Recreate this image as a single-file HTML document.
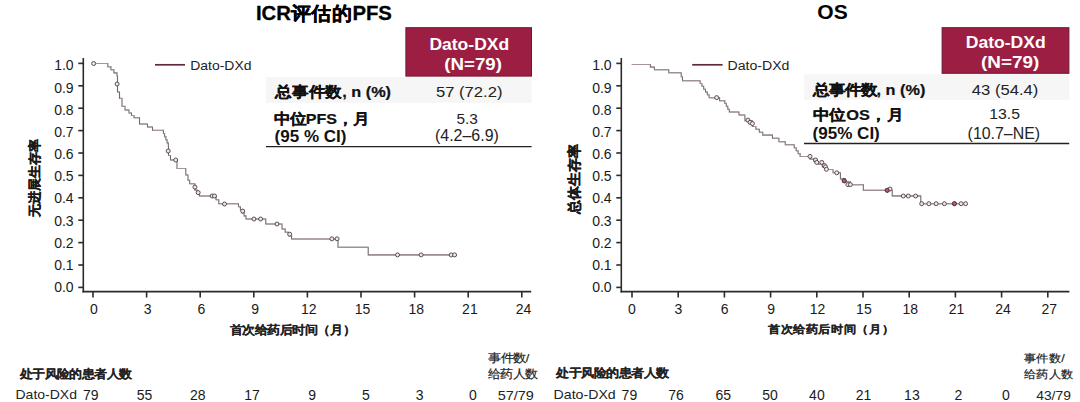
<!DOCTYPE html>
<html><head><meta charset="utf-8"><title>Dato-DXd KM</title>
<style>html,body{margin:0;padding:0;background:#fff;width:1080px;height:402px;overflow:hidden}svg{display:block}</style>
</head><body>
<svg width="1080" height="402" viewBox="0 0 1080 402"><style>.ax{stroke:#2b2b2b;stroke-width:1.6;fill:none}.cv{fill:none;stroke:#6e6a6c;stroke-width:1.1}.ch{fill:none;stroke:#a8939b;stroke-width:1.05}.cf{fill:#b3607c;stroke:#4a2a36;stroke-width:0.9}.cc{fill:#f3e4ea;stroke:#4a4044;stroke-width:0.9}text{font-family:"Liberation Sans",sans-serif}</style><rect width="1080" height="402" fill="#fff"/><rect x="405.9" y="27.7" width="125.6" height="48.4" fill="#9c1f43" stroke="#6a1832" stroke-width="1"/><rect x="942.1" y="27.7" width="126.8" height="45.6" fill="#9c1f43" stroke="#6a1832" stroke-width="1"/><rect x="266" y="77" width="265.6" height="25.8" fill="#f6f6f6"/><rect x="804" y="74.4" width="265.2" height="25.4" fill="#f6f6f6"/><line x1="266" y1="146.6" x2="531.6" y2="146.6" stroke="#222" stroke-width="1.3"/><line x1="804" y1="143.5" x2="1069.2" y2="143.5" stroke="#222" stroke-width="1.3"/><text transform="translate(324.00,13.35) scale(1.0152,0.9650) translate(-67.00,7.00)" font-size="20" font-weight="700" fill="#000" stroke="#000" stroke-width="0.30" stroke-linejoin="round">ICR评估的PFS</text><text transform="translate(832.60,11.25) scale(1.0519,1.0519) translate(-14.50,7.00)" font-size="20" font-weight="700" fill="#000">OS</text><text transform="translate(469.25,44.15) scale(0.8753,0.8200) translate(-45.50,7.50)" font-size="20" font-weight="700" fill="#fff">Dato-DXd</text><text transform="translate(473.35,65.00) scale(0.9350,0.8415) translate(-31.00,5.50)" font-size="20" font-weight="700" fill="#fff">(N=79)</text><text transform="translate(1005.70,42.05) scale(0.8787,0.8200) translate(-45.50,7.50)" font-size="20" font-weight="700" fill="#fff">Dato-DXd</text><text transform="translate(1010.25,62.95) scale(0.9450,0.8505) translate(-31.00,5.50)" font-size="20" font-weight="700" fill="#fff">(N=79)</text><text transform="translate(331.55,92.60) scale(0.8151,0.7336) translate(-69.50,6.50)" font-size="20" font-weight="700" fill="#111" stroke="#111" stroke-width="0.30" stroke-linejoin="round">总事件数, n (%)</text><text transform="translate(320.90,118.45) scale(0.8053,0.7250) translate(-58.00,7.00)" font-size="20" font-weight="700" fill="#111" stroke="#111" stroke-width="0.30" stroke-linejoin="round">中位PFS，月</text><text transform="translate(310.75,137.90) scale(0.8518,0.7789) translate(-42.50,5.50)" font-size="20" font-weight="700" fill="#111">(95 % CI)</text><text transform="translate(469.20,93.00) scale(0.8308,0.7477) translate(-40.00,5.50)" font-size="20" font-weight="400" fill="#222">57 (72.2)</text><text transform="translate(467.20,118.30) scale(0.7692,0.7429) translate(-14.00,7.00)" font-size="20" font-weight="400" fill="#222">5.3</text><text transform="translate(466.95,136.95) scale(0.7987,0.7842) translate(-40.00,5.50)" font-size="20" font-weight="400" fill="#222">(4.2–6.9)</text><text transform="translate(870.05,89.95) scale(0.8137,0.7323) translate(-69.50,6.50)" font-size="20" font-weight="700" fill="#111" stroke="#111" stroke-width="0.30" stroke-linejoin="round">总事件数, n (%)</text><text transform="translate(856.00,115.10) scale(0.8192,0.7373) translate(-53.00,7.00)" font-size="20" font-weight="700" fill="#111" stroke="#111" stroke-width="0.30" stroke-linejoin="round">中位OS，月</text><text transform="translate(846.25,134.95) scale(0.8532,0.7947) translate(-39.50,5.50)" font-size="20" font-weight="700" fill="#111">(95% CI)</text><text transform="translate(1004.65,90.60) scale(0.8316,0.7485) translate(-39.50,5.50)" font-size="20" font-weight="400" fill="#222">43 (54.4)</text><text transform="translate(1004.60,114.20) scale(0.7892,0.7429) translate(-19.50,7.00)" font-size="20" font-weight="400" fill="#222">13.5</text><text transform="translate(1003.80,134.60) scale(0.7955,0.7789) translate(-45.50,5.50)" font-size="20" font-weight="400" fill="#222">(10.7–NE)</text><text transform="translate(221.35,64.90) scale(0.6976,0.6667) translate(-44.50,7.50)" font-size="20" font-weight="400" fill="#222">Dato-DXd</text><text transform="translate(758.90,64.90) scale(0.7059,0.6667) translate(-44.50,7.50)" font-size="20" font-weight="400" fill="#222">Dato-DXd</text><text transform="translate(290.00,330.15) scale(0.6394,0.5857) translate(-94.00,6.50)" font-size="20" font-weight="700" fill="#222" stroke="#222" stroke-width="0.20" stroke-linejoin="round">首次给药后时间（月）</text><text transform="translate(827.75,329.75) scale(0.6356,0.5721) translate(-94.00,6.50)" font-size="20" font-weight="700" fill="#222" stroke="#222" stroke-width="0.20" stroke-linejoin="round">首次给药后时间（月）</text><text transform="translate(77.00,374.20) scale(0.6367,0.5900) translate(-90.00,7.00)" font-size="20" font-weight="700" fill="#222" stroke="#222" stroke-width="0.20" stroke-linejoin="round">处于风险的患者人数</text><text transform="translate(613.50,373.05) scale(0.6389,0.5850) translate(-90.00,7.00)" font-size="20" font-weight="700" fill="#222" stroke="#222" stroke-width="0.20" stroke-linejoin="round">处于风险的患者人数</text><text transform="translate(46.65,394.15) scale(0.7000,0.6467) translate(-44.50,7.50)" font-size="20" font-weight="400" fill="#222">Dato-DXd</text><text transform="translate(585.10,394.15) scale(0.7082,0.6467) translate(-44.50,7.50)" font-size="20" font-weight="400" fill="#222">Dato-DXd</text><text transform="translate(509.15,357.75) scale(0.6409,0.5768) translate(-33.00,7.00)" font-size="20" font-weight="400" fill="#222" stroke="#222" stroke-width="0.35" stroke-linejoin="round">事件数/</text><text transform="translate(513.05,373.85) scale(0.6342,0.5850) translate(-39.50,7.00)" font-size="20" font-weight="400" fill="#222" stroke="#222" stroke-width="0.35" stroke-linejoin="round">给药人数</text><text transform="translate(1044.40,358.45) scale(0.6333,0.5700) translate(-33.00,7.00)" font-size="20" font-weight="400" fill="#222" stroke="#222" stroke-width="0.35" stroke-linejoin="round">事件数/</text><text transform="translate(1048.65,374.05) scale(0.6367,0.5730) translate(-39.50,7.00)" font-size="20" font-weight="400" fill="#222" stroke="#222" stroke-width="0.35" stroke-linejoin="round">给药人数</text><text transform="translate(515.75,395.30) scale(0.7229,0.6667) translate(-25.00,7.50)" font-size="20" font-weight="400" fill="#222">57/79</text><text transform="translate(1053.20,395.30) scale(0.6939,0.6667) translate(-24.50,7.50)" font-size="20" font-weight="400" fill="#222">43/79</text><line x1="155" y1="64.8" x2="185" y2="64.8" stroke="#5e2a3c" stroke-width="1.7"/><line x1="692.2" y1="64.8" x2="722.6" y2="64.8" stroke="#5e2a3c" stroke-width="1.7"/><line x1="83.3" y1="58" x2="83.3" y2="292.4" class="ax"/><line x1="78.3" y1="287.4" x2="83.3" y2="287.4" class="ax"/><line x1="78.3" y1="265.0" x2="83.3" y2="265.0" class="ax"/><line x1="78.3" y1="242.6" x2="83.3" y2="242.6" class="ax"/><line x1="78.3" y1="220.2" x2="83.3" y2="220.2" class="ax"/><line x1="78.3" y1="197.8" x2="83.3" y2="197.8" class="ax"/><line x1="78.3" y1="175.4" x2="83.3" y2="175.4" class="ax"/><line x1="78.3" y1="153.0" x2="83.3" y2="153.0" class="ax"/><line x1="78.3" y1="130.6" x2="83.3" y2="130.6" class="ax"/><line x1="78.3" y1="108.2" x2="83.3" y2="108.2" class="ax"/><line x1="78.3" y1="85.8" x2="83.3" y2="85.8" class="ax"/><line x1="78.3" y1="63.4" x2="83.3" y2="63.4" class="ax"/><line x1="82.5" y1="291.6" x2="531.2" y2="291.6" class="ax"/><line x1="93.0" y1="291.6" x2="93.0" y2="297.5" class="ax"/><line x1="146.6" y1="291.6" x2="146.6" y2="297.5" class="ax"/><line x1="200.2" y1="291.6" x2="200.2" y2="297.5" class="ax"/><line x1="253.8" y1="291.6" x2="253.8" y2="297.5" class="ax"/><line x1="307.4" y1="291.6" x2="307.4" y2="297.5" class="ax"/><line x1="361.0" y1="291.6" x2="361.0" y2="297.5" class="ax"/><line x1="414.6" y1="291.6" x2="414.6" y2="297.5" class="ax"/><line x1="468.2" y1="291.6" x2="468.2" y2="297.5" class="ax"/><line x1="521.8" y1="291.6" x2="521.8" y2="297.5" class="ax"/><line x1="621.3" y1="58" x2="621.3" y2="292.4" class="ax"/><line x1="616.3" y1="287.4" x2="621.3" y2="287.4" class="ax"/><line x1="616.3" y1="265.0" x2="621.3" y2="265.0" class="ax"/><line x1="616.3" y1="242.6" x2="621.3" y2="242.6" class="ax"/><line x1="616.3" y1="220.2" x2="621.3" y2="220.2" class="ax"/><line x1="616.3" y1="197.8" x2="621.3" y2="197.8" class="ax"/><line x1="616.3" y1="175.4" x2="621.3" y2="175.4" class="ax"/><line x1="616.3" y1="153.0" x2="621.3" y2="153.0" class="ax"/><line x1="616.3" y1="130.6" x2="621.3" y2="130.6" class="ax"/><line x1="616.3" y1="108.2" x2="621.3" y2="108.2" class="ax"/><line x1="616.3" y1="85.8" x2="621.3" y2="85.8" class="ax"/><line x1="616.3" y1="63.4" x2="621.3" y2="63.4" class="ax"/><line x1="620.5" y1="291.6" x2="1069.4" y2="291.6" class="ax"/><line x1="632.0" y1="291.6" x2="632.0" y2="297.5" class="ax"/><line x1="678.2" y1="291.6" x2="678.2" y2="297.5" class="ax"/><line x1="724.4" y1="291.6" x2="724.4" y2="297.5" class="ax"/><line x1="770.6" y1="291.6" x2="770.6" y2="297.5" class="ax"/><line x1="816.8" y1="291.6" x2="816.8" y2="297.5" class="ax"/><line x1="863.0" y1="291.6" x2="863.0" y2="297.5" class="ax"/><line x1="909.2" y1="291.6" x2="909.2" y2="297.5" class="ax"/><line x1="955.4" y1="291.6" x2="955.4" y2="297.5" class="ax"/><line x1="1001.6" y1="291.6" x2="1001.6" y2="297.5" class="ax"/><line x1="1047.8" y1="291.6" x2="1047.8" y2="297.5" class="ax"/><text x="73.6" y="292.0" font-size="14" font-weight="400" text-anchor="end" fill="#1a1a1a" >0.0</text><text x="611.6" y="292.0" font-size="14" font-weight="400" text-anchor="end" fill="#1a1a1a" >0.0</text><text x="73.6" y="269.8" font-size="14" font-weight="400" text-anchor="end" fill="#1a1a1a" >0.1</text><text x="611.6" y="269.8" font-size="14" font-weight="400" text-anchor="end" fill="#1a1a1a" >0.1</text><text x="73.6" y="247.7" font-size="14" font-weight="400" text-anchor="end" fill="#1a1a1a" >0.2</text><text x="611.6" y="247.7" font-size="14" font-weight="400" text-anchor="end" fill="#1a1a1a" >0.2</text><text x="73.6" y="225.5" font-size="14" font-weight="400" text-anchor="end" fill="#1a1a1a" >0.3</text><text x="611.6" y="225.5" font-size="14" font-weight="400" text-anchor="end" fill="#1a1a1a" >0.3</text><text x="73.6" y="203.3" font-size="14" font-weight="400" text-anchor="end" fill="#1a1a1a" >0.4</text><text x="611.6" y="203.3" font-size="14" font-weight="400" text-anchor="end" fill="#1a1a1a" >0.4</text><text x="73.6" y="181.1" font-size="14" font-weight="400" text-anchor="end" fill="#1a1a1a" >0.5</text><text x="611.6" y="181.1" font-size="14" font-weight="400" text-anchor="end" fill="#1a1a1a" >0.5</text><text x="73.6" y="159.0" font-size="14" font-weight="400" text-anchor="end" fill="#1a1a1a" >0.6</text><text x="611.6" y="159.0" font-size="14" font-weight="400" text-anchor="end" fill="#1a1a1a" >0.6</text><text x="73.6" y="136.8" font-size="14" font-weight="400" text-anchor="end" fill="#1a1a1a" >0.7</text><text x="611.6" y="136.8" font-size="14" font-weight="400" text-anchor="end" fill="#1a1a1a" >0.7</text><text x="73.6" y="114.6" font-size="14" font-weight="400" text-anchor="end" fill="#1a1a1a" >0.8</text><text x="611.6" y="114.6" font-size="14" font-weight="400" text-anchor="end" fill="#1a1a1a" >0.8</text><text x="73.6" y="92.5" font-size="14" font-weight="400" text-anchor="end" fill="#1a1a1a" >0.9</text><text x="611.6" y="92.5" font-size="14" font-weight="400" text-anchor="end" fill="#1a1a1a" >0.9</text><text x="73.6" y="70.3" font-size="14" font-weight="400" text-anchor="end" fill="#1a1a1a" >1.0</text><text x="611.6" y="70.3" font-size="14" font-weight="400" text-anchor="end" fill="#1a1a1a" >1.0</text><text x="94.0" y="313.6" font-size="14" font-weight="400" text-anchor="middle" fill="#1a1a1a" >0</text><text x="147.7" y="313.6" font-size="14" font-weight="400" text-anchor="middle" fill="#1a1a1a" >3</text><text x="201.4" y="313.6" font-size="14" font-weight="400" text-anchor="middle" fill="#1a1a1a" >6</text><text x="255.1" y="313.6" font-size="14" font-weight="400" text-anchor="middle" fill="#1a1a1a" >9</text><text x="308.8" y="313.6" font-size="14" font-weight="400" text-anchor="middle" fill="#1a1a1a" >12</text><text x="362.5" y="313.6" font-size="14" font-weight="400" text-anchor="middle" fill="#1a1a1a" >15</text><text x="416.2" y="313.6" font-size="14" font-weight="400" text-anchor="middle" fill="#1a1a1a" >18</text><text x="469.9" y="313.6" font-size="14" font-weight="400" text-anchor="middle" fill="#1a1a1a" >21</text><text x="523.6" y="313.6" font-size="14" font-weight="400" text-anchor="middle" fill="#1a1a1a" >24</text><text x="632.0" y="313.6" font-size="14" font-weight="400" text-anchor="middle" fill="#1a1a1a" >0</text><text x="678.4" y="313.6" font-size="14" font-weight="400" text-anchor="middle" fill="#1a1a1a" >3</text><text x="724.7" y="313.6" font-size="14" font-weight="400" text-anchor="middle" fill="#1a1a1a" >6</text><text x="771.1" y="313.6" font-size="14" font-weight="400" text-anchor="middle" fill="#1a1a1a" >9</text><text x="817.5" y="313.6" font-size="14" font-weight="400" text-anchor="middle" fill="#1a1a1a" >12</text><text x="863.9" y="313.6" font-size="14" font-weight="400" text-anchor="middle" fill="#1a1a1a" >15</text><text x="910.2" y="313.6" font-size="14" font-weight="400" text-anchor="middle" fill="#1a1a1a" >18</text><text x="956.6" y="313.6" font-size="14" font-weight="400" text-anchor="middle" fill="#1a1a1a" >21</text><text x="1003.0" y="313.6" font-size="14" font-weight="400" text-anchor="middle" fill="#1a1a1a" >24</text><text x="1049.3" y="313.6" font-size="14" font-weight="400" text-anchor="middle" fill="#1a1a1a" >27</text><text x="0" y="0" font-size="13" font-weight="700" text-anchor="middle" fill="#1a1a1a" stroke="#1a1a1a" stroke-width="0.3" transform="translate(39,178) rotate(-90)">无进展生存率</text><text x="0" y="0" font-size="14" font-weight="700" text-anchor="middle" fill="#1a1a1a" stroke="#1a1a1a" stroke-width="0.3" transform="translate(578.5,179) rotate(-90)">总体生存率</text><path class="cv" d="M93.5,63.5H107.8V63.5H107.8V66.6H110.9V69.8H113.9V72.9H117.0V76.0H117.5V92.0H119.5V98.4H122.0V106.4H125.0V110.0H129.0V113.0H131.5V115.5H134.0V117.8H139.5V124.0H147.5V127.0H152.5V130.4H163.4V130.4H163.4V133.5H164.6V136.6H165.9V139.8H167.1V142.9H168.3V146.0H168.5V151.0H168.5V155.5H170.5V160.0H177.0V160.0H177.0V168.5H183.6V168.5H185.8V175.0H188.0V177.0H188.0V180.3H189.7V183.7H194.9V187.1H194.9V190.1H197.2V193.0H199.4V196.0H216.0V196.0H216.0V199.8H218.8V203.7H238.5V203.7H238.5V206.8H240.4V209.8H242.2V212.9H244.1V215.9H246.0V219.0H265.8V219.0H265.8V224.0H282.0V224.0H282.0V229.0H285.2V229.0H285.2V232.3H288.4V235.7H291.6V239.0H338.0V239.0H338.0V247.2H368.2V247.2H368.2V254.9H456.4V254.9"/><path class="ch" d="M93.5,63.5H107.8M107.8,66.6H110.9M110.9,69.8H113.9M113.9,72.9H117.0M117.0,76.0H117.5M117.5,92.0H119.5M119.5,98.4H122.0M122.0,106.4H125.0M125.0,110.0H129.0M129.0,113.0H131.5M131.5,115.5H134.0M134.0,117.8H139.5M139.5,124.0H147.5M147.5,127.0H152.5M152.5,130.4H163.4M163.4,133.5H164.6M164.6,136.6H165.9M165.9,139.8H167.1M167.1,142.9H168.3M168.3,146.0H168.5M168.5,155.5H170.5M170.5,160.0H177.0M177.0,168.5H183.6M183.6,168.5H185.8M185.8,175.0H188.0M188.0,180.3H189.7M189.7,183.7H194.9M194.9,190.1H197.2M197.2,193.0H199.4M199.4,196.0H216.0M216.0,199.8H218.8M218.8,203.7H238.5M238.5,206.8H240.4M240.4,209.8H242.2M242.2,212.9H244.1M244.1,215.9H246.0M246.0,219.0H265.8M265.8,224.0H282.0M282.0,229.0H285.2M285.2,232.3H288.4M288.4,235.7H291.6M291.6,239.0H338.0M338.0,247.2H368.2M368.2,254.9H456.4"/><g class="cc"><circle cx="93.7" cy="63.5" r="2.0"/><circle cx="117.1" cy="84.0" r="2.0"/><circle cx="168.2" cy="151.0" r="2.0"/><circle cx="175.7" cy="160.0" r="2.0"/><circle cx="194.9" cy="187.1" r="2.0"/><circle cx="198.2" cy="192.6" r="2.0"/><circle cx="212.1" cy="196.0" r="2.0"/><circle cx="214.5" cy="196.0" r="2.0"/><circle cx="224.5" cy="204.0" r="2.0"/><circle cx="242.7" cy="211.1" r="2.0"/><circle cx="253.9" cy="219.0" r="2.0"/><circle cx="260.6" cy="219.0" r="2.0"/><circle cx="277.0" cy="224.0" r="2.0"/><circle cx="289.7" cy="234.2" r="2.0"/><circle cx="331.9" cy="238.8" r="2.0"/><circle cx="337.1" cy="238.8" r="2.0"/><circle cx="397.5" cy="254.9" r="2.0"/><circle cx="421.1" cy="254.9" r="2.0"/><circle cx="451.2" cy="254.9" r="2.0"/><circle cx="454.6" cy="254.9" r="2.0"/></g><path class="cv" d="M631.8,64.5H650.4V64.5H650.4V67.1H654.4V69.7H668.8V69.7H668.8V72.7H681.2V72.7H681.2V76.7H682.5V80.7H700.1V80.7H700.1V83.5H701.9V86.3H703.7V89.2H705.5V92.0H707.3V94.8H709.1V97.6H716.6V97.6H719.6V100.6H724.8V100.6H724.8V103.4H726.3V106.3H727.8V109.2H729.3V112.0H739.0V112.0H739.0V115.0H744.9V117.9H744.9V120.8H752.4V123.6H752.4V126.5H755.9V129.3H759.3V132.2H762.8V135.1H772.5V135.1H772.5V138.3H778.9V141.6H785.2V144.8H794.2V144.8H794.2V147.7H796.2V150.7H798.1V153.6H800.1V156.5H810.0V156.5H810.0V159.1H814.1V161.7H818.2V164.3H822.4V166.9H826.5V169.5H833.0V169.5H833.0V172.8H840.4V176.1H840.4V178.9H845.4V181.8H850.4V184.6H863.3V184.6H863.3V190.3H892.2V190.3H892.2V195.9H920.8V195.9H920.8V203.7H966.0V203.7"/><path class="ch" d="M631.8,64.5H650.4M650.4,67.1H654.4M654.4,69.7H668.8M668.8,72.7H681.2M681.2,76.7H682.5M682.5,80.7H700.1M700.1,83.5H701.9M701.9,86.3H703.7M703.7,89.2H705.5M705.5,92.0H707.3M707.3,94.8H709.1M709.1,97.6H716.6M716.6,97.6H719.6M719.6,100.6H724.8M724.8,103.4H726.3M726.3,106.3H727.8M727.8,109.2H729.3M729.3,112.0H739.0M739.0,115.0H744.9M744.9,120.8H752.4M752.4,126.5H755.9M755.9,129.3H759.3M759.3,132.2H762.8M762.8,135.1H772.5M772.5,138.3H778.9M778.9,141.6H785.2M785.2,144.8H794.2M794.2,147.7H796.2M796.2,150.7H798.1M798.1,153.6H800.1M800.1,156.5H810.0M810.0,159.1H814.1M814.1,161.7H818.2M818.2,164.3H822.4M822.4,166.9H826.5M826.5,169.5H833.0M833.0,172.8H840.4M840.4,178.9H845.4M845.4,181.8H850.4M850.4,184.6H863.3M863.3,190.3H892.2M892.2,195.9H920.8M920.8,203.7H966.0"/><g class="cc"><circle cx="716.6" cy="97.6" r="2.0"/><circle cx="747.9" cy="120.1" r="2.0"/><circle cx="750.1" cy="122.4" r="2.0"/><circle cx="752.4" cy="123.6" r="2.0"/><circle cx="810.0" cy="156.4" r="2.0"/><circle cx="815.5" cy="160.0" r="2.0"/><circle cx="816.8" cy="162.4" r="2.0"/><circle cx="821.8" cy="162.4" r="2.0"/><circle cx="824.3" cy="165.5" r="2.0"/><circle cx="825.5" cy="166.8" r="2.0"/><circle cx="826.4" cy="169.3" r="2.0"/><circle cx="836.7" cy="172.8" r="2.0"/><circle cx="844.2" cy="180.8" r="2.0"/><circle cx="847.9" cy="184.6" r="2.0"/><circle cx="850.4" cy="184.6" r="2.0"/><circle cx="887.2" cy="190.3" r="2.0"/><circle cx="890.0" cy="189.0" r="2.0"/><circle cx="903.3" cy="196.0" r="2.0"/><circle cx="908.3" cy="196.0" r="2.0"/><circle cx="915.6" cy="196.0" r="2.0"/><circle cx="921.7" cy="203.7" r="2.0"/><circle cx="928.9" cy="203.7" r="2.0"/><circle cx="936.1" cy="203.7" r="2.0"/><circle cx="944.4" cy="203.7" r="2.0"/><circle cx="954.4" cy="203.7" r="2.0"/><circle cx="961.1" cy="203.7" r="2.0"/><circle cx="965.6" cy="203.7" r="2.0"/></g><g class="cf"><circle cx="844.2" cy="180.8" r="2.0"/><circle cx="887.2" cy="190.3" r="2.0"/><circle cx="954.4" cy="203.7" r="2.0"/></g><text x="90.7" y="399.5" font-size="14" font-weight="400" text-anchor="middle" fill="#1a1a1a" >79</text><text x="144.5" y="399.5" font-size="14" font-weight="400" text-anchor="middle" fill="#1a1a1a" >55</text><text x="197.7" y="399.5" font-size="14" font-weight="400" text-anchor="middle" fill="#1a1a1a" >28</text><text x="252.1" y="399.5" font-size="14" font-weight="400" text-anchor="middle" fill="#1a1a1a" >17</text><text x="312.1" y="399.5" font-size="14" font-weight="400" text-anchor="middle" fill="#1a1a1a" >9</text><text x="365.9" y="399.5" font-size="14" font-weight="400" text-anchor="middle" fill="#1a1a1a" >5</text><text x="419.6" y="399.5" font-size="14" font-weight="400" text-anchor="middle" fill="#1a1a1a" >3</text><text x="473.0" y="399.5" font-size="14" font-weight="400" text-anchor="middle" fill="#1a1a1a" >0</text><text x="629.4" y="399.5" font-size="14" font-weight="400" text-anchor="middle" fill="#1a1a1a" >79</text><text x="676" y="399.5" font-size="14" font-weight="400" text-anchor="middle" fill="#1a1a1a" >76</text><text x="723.2" y="399.5" font-size="14" font-weight="400" text-anchor="middle" fill="#1a1a1a" >65</text><text x="770.1" y="399.5" font-size="14" font-weight="400" text-anchor="middle" fill="#1a1a1a" >50</text><text x="816.9" y="399.5" font-size="14" font-weight="400" text-anchor="middle" fill="#1a1a1a" >40</text><text x="863.5" y="399.5" font-size="14" font-weight="400" text-anchor="middle" fill="#1a1a1a" >21</text><text x="911.9" y="399.5" font-size="14" font-weight="400" text-anchor="middle" fill="#1a1a1a" >13</text><text x="958.5" y="399.5" font-size="14" font-weight="400" text-anchor="middle" fill="#1a1a1a" >2</text><text x="1005.9" y="399.5" font-size="14" font-weight="400" text-anchor="middle" fill="#1a1a1a" >0</text></svg>
</body></html>
